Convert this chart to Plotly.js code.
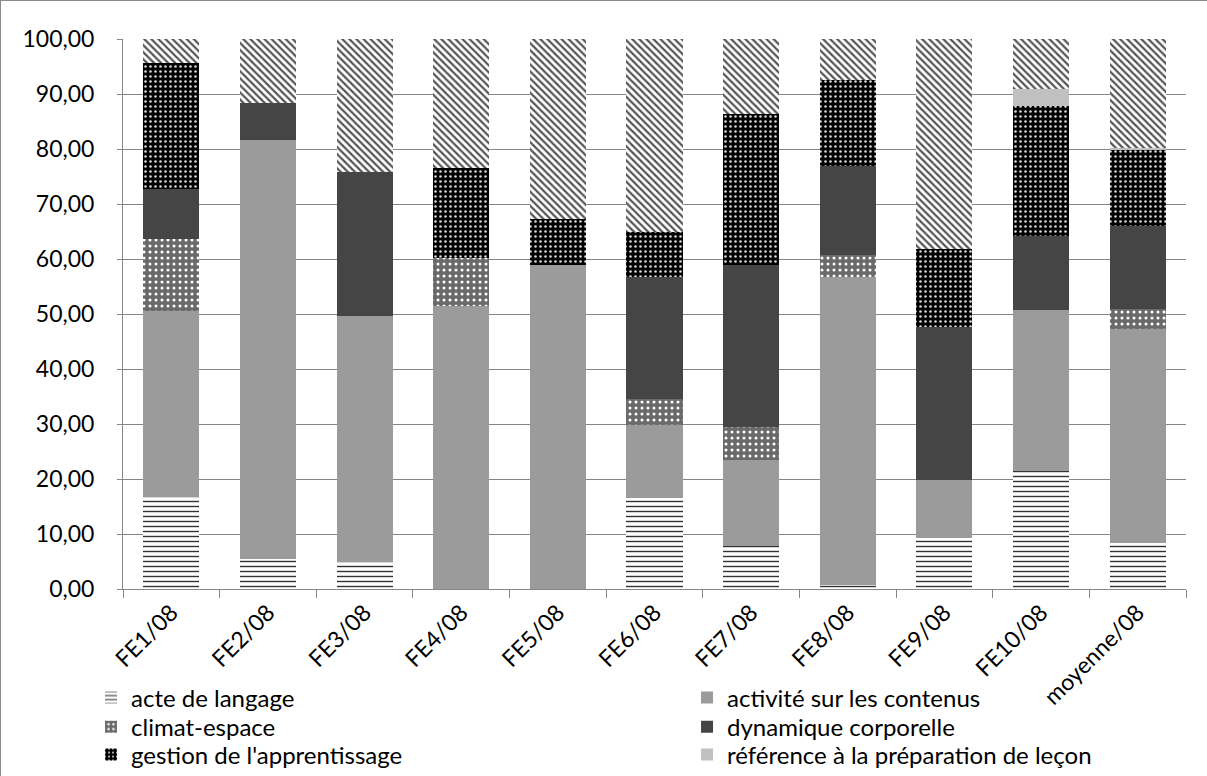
<!DOCTYPE html>
<html>
<head>
<meta charset="utf-8">
<script src="https://cdn.plot.ly/plotly-3.0.1.min.js"></script>
<style>
  html, body { margin: 0; padding: 0; background: #fff; }
  #chart { width: 1207px; height: 776px; box-sizing: border-box; border: 1px solid #8a8a8a; }
</style>
</head>
<body>
<div id="chart"></div>
<script>
const categories = ["FE1/08", "FE2/08", "FE3/08", "FE4/08", "FE5/08", "FE6/08", "FE7/08", "FE8/08", "FE9/08", "FE10/08", "moyenne/08"];

const acteDeLangage      = [16.8, 5.4, 5.0, 0.0, 0.0, 16.5, 7.8, 0.8, 9.3, 21.4, 8.3];
const activiteContenus   = [33.8, 76.3, 44.6, 51.4, 58.9, 13.3, 15.6, 55.9, 10.5, 29.3, 39.0];
const climatEspace       = [13.0, 0.0, 0.0, 8.8, 0.0, 4.8, 6.0, 4.0, 0.0, 0.0, 3.6];
const dynamiqueCorporelle= [9.1, 6.7, 26.2, 0.0, 0.0, 22.1, 29.6, 16.2, 27.8, 13.4, 15.1];
const gestionApprent     = [22.9, 0.0, 0.0, 16.4, 8.3, 8.2, 27.3, 15.6, 14.3, 23.8, 13.8];
const referencePrep      = [0.0, 0.0, 0.0, 0.0, 0.0, 0.0, 0.0, 0.0, 0.0, 3.1, 0.3];
const autre              = [4.4, 11.6, 24.2, 23.4, 32.8, 35.1, 13.7, 7.5, 38.1, 9.0, 19.9];

const seriesNames = ["acte de langage", "activité sur les contenus", "climat-espace", "dynamique corporelle", "gestion de l'apprentissage", "référence à la préparation de leçon", "autre"];

const FONT = "Lato, 'Open Sans', sans-serif";

function bar(name, y, marker, legend, show) {
  return {
    type: "bar", name: name, x: categories, y: y,
    marker: Object.assign({ line: { width: 0 } }, marker),
    legend: legend, showlegend: show !== false,
    hoverinfo: "name+y"
  };
}

const traces = [
  bar(seriesNames[0], acteDeLangage, { color: "#ffffff", pattern: { shape: "-", fgcolor: "#333", bgcolor: "#ffffff", size: 5, solidity: 0.28 } }, "legend"),
  bar(seriesNames[1], activiteContenus, { color: "#9b9b9b" }, "legend2"),
  bar(seriesNames[2], climatEspace, { color: "#777777", pattern: { shape: ".", fgcolor: "#ffffff", bgcolor: "#6a6a6a", size: 6, solidity: 0.2 } }, "legend3"),
  bar(seriesNames[3], dynamiqueCorporelle, { color: "#454545" }, "legend4"),
  bar(seriesNames[4], gestionApprent, { color: "#000000", pattern: { shape: ".", fgcolor: "#d8d8d8", bgcolor: "#000000", size: 5, solidity: 0.2 } }, "legend5"),
  bar(seriesNames[5], referencePrep, { color: "#c0c0c0" }, "legend6"),
  bar(seriesNames[6], autre, { color: "#ffffff", pattern: { shape: "\\", fgcolor: "#555", bgcolor: "#ffffff", size: 5, solidity: 0.45 } }, "legend", false)
];

function leg(x, y) {
  return {
    x: x, y: y, xref: "paper", yref: "container",
    orientation: "v", traceorder: "normal", yanchor: "middle", xanchor: "left",
    font: { family: FONT, size: 24, color: "#000" },
    bgcolor: "rgba(0,0,0,0)", itemwidth: 30, itemclick: false
  };
}

const xLeft = -0.0301, xRight = 0.5306;
const yRows = [0.1018, 0.0644, 0.0284];

const layout = {
  width: 1207, height: 776,
  margin: { l: 122, r: 22, t: 38, b: 188 },
  barmode: "stack", bargap: 0.42,
  paper_bgcolor: "#ffffff", plot_bgcolor: "#ffffff",
  separators: ", ",
  font: { family: FONT, size: 22, color: "#000" },
  xaxis: {
    type: "category", tickangle: -45, ticks: "outside", tickson: "boundaries",
    ticklen: 8, tickcolor: "#868686", showline: true, linecolor: "#868686", linewidth: 1,
    showgrid: false, automargin: false, tickfont: { family: FONT, size: 23, color: "#000" }
  },
  yaxis: {
    range: [0, 100], tickmode: "linear", tick0: 0, dtick: 10, tickformat: ".2f",
    showgrid: true, gridcolor: "#868686", gridwidth: 1,
    showline: true, linecolor: "#868686", linewidth: 1,
    ticks: "outside", ticklen: 5, tickcolor: "#868686", ticklabelstandoff: 18,
    zeroline: false, automargin: false, tickfont: { family: FONT, size: 23, color: "#000" }
  },
  showlegend: true,
  legend:  leg(xLeft,  yRows[0]),
  legend2: leg(xRight, yRows[0]),
  legend3: leg(xLeft,  yRows[1]),
  legend4: leg(xRight, yRows[1]),
  legend5: leg(xLeft,  yRows[2]),
  legend6: leg(xRight, yRows[2])
};

Plotly.newPlot("chart", traces, layout, { displayModeBar: false, staticPlot: true });
</script>
</body>
</html>
